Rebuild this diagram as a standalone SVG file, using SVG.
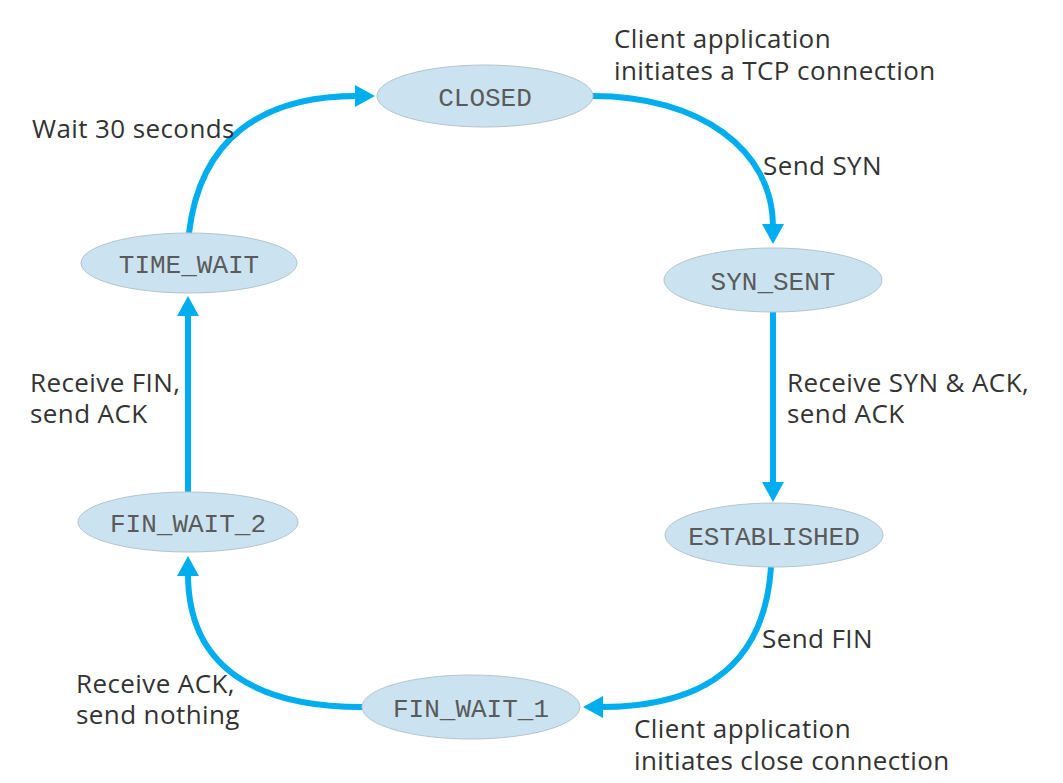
<svg xmlns="http://www.w3.org/2000/svg" width="1063" height="783" viewBox="0 0 1063 783">
<style>
.node ellipse{fill:#cbe3f0;stroke:#b4c4cc;stroke-width:1}
.node text{font-family:"Liberation Mono",monospace;font-size:26px;fill:#5a5a5a;text-anchor:middle}
.edge{fill:none;stroke:#00aeef;stroke-width:6}
.lbl{font-family:"Open Sans","Liberation Sans",sans-serif;font-size:26px;letter-spacing:0.4px;fill:#333}
</style>
<defs>
<marker id="ah" markerUnits="userSpaceOnUse" markerWidth="24" markerHeight="24" refX="2" refY="11" orient="auto">
<path d="M0,0 L20,11 L0,22 Z" fill="#00aeef"/>
</marker>
</defs>
<rect width="1063" height="783" fill="#fff"/>
<g id="connectors">
<path class="edge" d="M593,96 C700,96 773,150 773,226" marker-end="url(#ah)"/>
<path class="edge" d="M773,312 L773,484" marker-end="url(#ah)"/>
<path class="edge" d="M771,567 C765,660 710,707 601,707" marker-end="url(#ah)"/>
<path class="edge" d="M362,707 C260,707 188,670 188,574" marker-end="url(#ah)"/>
<path class="edge" d="M188,492 L188,314" marker-end="url(#ah)"/>
<path class="edge" d="M189,233 C200,140 260,96 357,96" marker-end="url(#ah)"/>
</g>
<g id="closed" class="node"><ellipse cx="485" cy="96" rx="108" ry="31"/><text x="485" y="106">CLOSED</text></g>
<g id="syn_sent" class="node"><ellipse cx="773" cy="280" rx="109" ry="32"/><text x="773" y="290">SYN_SENT</text></g>
<g id="established" class="node"><ellipse cx="774" cy="535" rx="109" ry="32"/><text x="774" y="545">ESTABLISHED</text></g>
<g id="fin_wait_1" class="node"><ellipse cx="471" cy="707" rx="109" ry="32"/><text x="471" y="717">FIN_WAIT_1</text></g>
<g id="fin_wait_2" class="node"><ellipse cx="188" cy="522" rx="110" ry="30"/><text x="188" y="532">FIN_WAIT_2</text></g>
<g id="time_wait" class="node"><ellipse cx="189" cy="263" rx="108" ry="30"/><text x="189" y="273">TIME_WAIT</text></g>
<g id="labels">
<text class="lbl" x="614" y="48">Client application</text>
<text class="lbl" x="614" y="80">initiates a TCP connection</text>
<text class="lbl" x="763" y="175">Send SYN</text>
<text class="lbl" x="787" y="392">Receive SYN &amp; ACK,</text>
<text class="lbl" x="787" y="423">send ACK</text>
<text class="lbl" x="762" y="648">Send FIN</text>
<text class="lbl" x="634" y="738">Client application</text>
<text class="lbl" x="634" y="770">initiates close connection</text>
<text class="lbl" x="76" y="693">Receive ACK,</text>
<text class="lbl" x="76" y="724">send nothing</text>
<text class="lbl" x="30" y="392">Receive FIN,</text>
<text class="lbl" x="30" y="423">send ACK</text>
<text class="lbl" x="32" y="138">Wait 30 seconds</text>
</g>
</svg>
